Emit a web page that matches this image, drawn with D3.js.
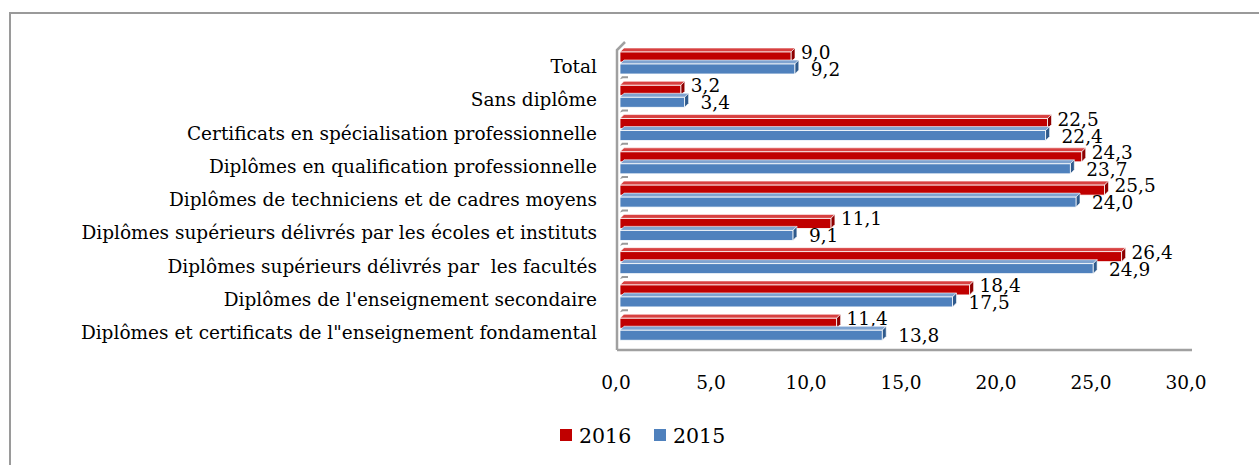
<!DOCTYPE html>
<html>
<head>
<meta charset="utf-8">
<script src="https://cdn.jsdelivr.net/npm/d3@7"></script>
<style>
  body { margin: 0; background: #fff; }
  text { font-family: "DejaVu Serif", "Liberation Serif", serif; fill: #000; white-space: pre; }
</style>
</head>
<body>
<div id="chart"></div>
<script>
// chart values
var categories = [
    "Total",
    "Sans diplôme",
    "Certificats en spécialisation professionnelle",
    "Diplômes en qualification professionnelle",
    "Diplômes de techniciens et de cadres moyens",
    "Diplômes supérieurs délivrés par les écoles et instituts",
    "Diplômes supérieurs délivrés par  les facultés",
    "Diplômes de l'enseignement secondaire",
    "Diplômes et certificats de l\"enseignement fondamental"
];
var values2016 = [9.0, 3.2, 22.5, 24.3, 25.5, 11.1, 26.4, 18.4, 11.4];
var values2015 = [9.2, 3.4, 22.4, 23.7, 24.0, 9.1, 24.9, 17.5, 13.8];
var ticks = [0, 5, 10, 15, 20, 25, 30];
var series = [
    { name: "2016", values: values2016, color: "#C00000", side: "#8E0000", top: "#D84040" },
    { name: "2015", values: values2015, color: "#4F81BD", side: "#2F5A8C", top: "#7FA3D0" }
];

var width = 1259, height = 465;
var depth = 4; // fake 3D offset

var svg = d3.select("#chart").append("svg")
    .attr("width", width)
    .attr("height", height);

// outer frame of the chart area
svg.append("rect")
    .attr("x", 10).attr("y", 13)
    .attr("width", width + 20).attr("height", height + 20)
    .attr("fill", "none")
    .attr("stroke", "#9a9a9a")
    .attr("stroke-width", 2);

var x = d3.scaleLinear().domain([0, 30]).range([616, 1186]);
var y = d3.scaleBand().domain(categories).range([46, 345.5]);

var fmt = function(v){ return d3.format(".1f")(v).replace(".", ","); };

// wall and floor
var axisColor = "#a0a0a0";
svg.append("path")
    .attr("d", "M" + 617 + "," + 350 + "V" + 50 + "l" + 8 + "," + (-8))
    .attr("fill", "none").attr("stroke", axisColor).attr("stroke-width", 2.5);
svg.append("line")
    .attr("x1", 617).attr("x2", 1192)
    .attr("y1", 350).attr("y2", 350)
    .attr("stroke", axisColor).attr("stroke-width", 2.5);

// little category stubs on the wall
svg.append("g").selectAll("path")
    .data(categories.slice(1))
    .enter().append("path")
    .attr("d", function(d){
        var yy = y(d);
        return "M620," + yy + "l2,-3h6v2h-5z";
    })
    .attr("fill", "#9a9a9a");

// bars
var barH = 10;
series.forEach(function(s, si){
    var g = svg.append("g");
    var offY = si === 0 ? 6 : 18;
    var rows = g.selectAll("g")
        .data(categories)
        .enter().append("g");

    rows.append("path") // top face
        .attr("d", function(d, i){
            var x0 = x(0) + depth, x1 = x(s.values[i]) + depth, yy = y(d) + offY;
            return "M" + x0 + "," + yy + "l" + depth + "," + (-depth) + "H" + (x1 + depth) + "l" + (-depth) + "," + depth + "z";
        })
        .attr("fill", s.top)
        .attr("stroke", "#fff").attr("stroke-width", 0.6);

    rows.append("path") // side face
        .attr("d", function(d, i){
            var x1 = x(s.values[i]) + depth, yy = y(d) + offY;
            return "M" + x1 + "," + yy + "l" + depth + "," + (-depth) + "v" + barH + "l" + (-depth) + "," + depth + "z";
        })
        .attr("fill", s.side)
        .attr("stroke", "#fff").attr("stroke-width", 0.6);

    rows.append("rect") // front face
        .attr("x", x(0) + depth)
        .attr("y", function(d){ return y(d) + offY; })
        .attr("width", function(d, i){ return x(s.values[i]) - x(0); })
        .attr("height", barH)
        .attr("fill", s.color)
        .attr("stroke", "#fff").attr("stroke-width", 0.8);

    rows.append("text")
        .attr("x", function(d, i){ return x(s.values[i]) + depth + (si === 0 ? 10 : 16); })
        .attr("y", function(d){ return y(d) + offY + barH + (si === 0 ? -3 : 2); })
        .style("font-size", "18.5px")
        .text(function(d, i){ return fmt(s.values[i]); });
});

// category labels
svg.append("g").selectAll("text")
    .data(categories)
    .enter().append("text")
    .attr("x", 597)
    .attr("y", function(d){ return y(d) + 27; })
    .attr("text-anchor", "end")
    .style("font-size", "18.5px")
    .text(function(d){ return d; });

// x tick labels
svg.append("g").selectAll("text")
    .data(ticks)
    .enter().append("text")
    .attr("x", function(d){ return x(d); })
    .attr("y", 389)
    .attr("text-anchor", "middle")
    .style("font-size", "18.5px")
    .text(function(d){ return fmt(d); });

// legend
var legend = svg.append("g").attr("transform", "translate(560,429)");
var lg = legend.selectAll("g")
    .data(series)
    .enter().append("g")
    .attr("transform", function(d, i){ return "translate(" + (i * 94) + ",0)"; });
lg.append("rect")
    .attr("width", 12).attr("height", 12)
    .attr("fill", function(d){ return d.color; });
lg.append("text")
    .attr("x", 19).attr("y", 14)
    .style("font-size", "20.5px")
    .text(function(d){ return d.name; });
</script>
</body>
</html>
